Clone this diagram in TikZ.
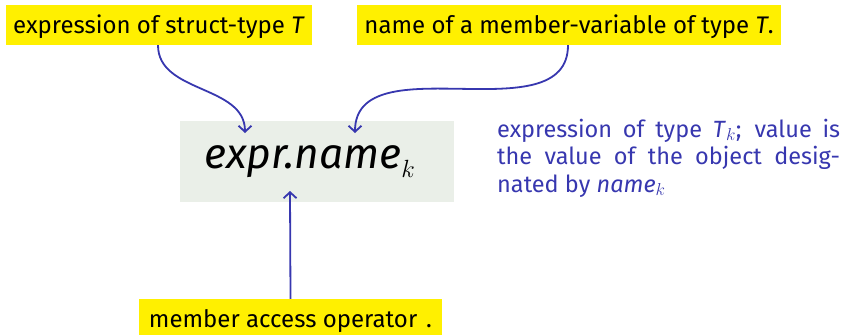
\documentclass[tikz,border=0pt]{standalone}
\usepackage{fontspec}
\setmainfont{Fira Sans}
\usetikzlibrary{arrows.meta}
\definecolor{hlyellow}{RGB}{255,240,0}
\definecolor{boxgray}{RGB}{234,239,232}
\definecolor{noteblue}{RGB}{55,55,175}
\begin{document}
\begin{tikzpicture}[x=1pt,y=-1pt,
  label box/.style={fill=hlyellow, inner sep=0pt, minimum height=40pt, font=\fontsize{24}{28}\selectfont, text depth=0pt, text height=0pt},
  conn/.style={draw=noteblue, line width=1.8pt, -{Straight Barb[length=6pt,width=13pt]}}]
\useasboundingbox (0,0) rectangle (847,335);
\node[label box, minimum width=306pt] (st) at (159,25) {\raisebox{-8pt}{expression of struct-type \textit{T}}};
\node[label box, minimum width=424pt] (nm) at (569,25) {\raisebox{-8pt}{name of a member-variable of type \textit{T}.}};
\node[label box, minimum width=303pt] (op) at (290.5,319) {\raisebox{-8pt}{member access operator\hspace{9pt}.}};
\node[fill=boxgray, minimum width=274pt, minimum height=81pt, inner sep=0pt, font=\fontsize{42.5}{42.5}\selectfont] (ex) at (317,161.5) {\textit{expr.name}$_k$\hspace*{14pt}};
\node[anchor=base west, inner sep=0pt, text width=343pt, align=justify, text=noteblue, font=\fontsize{23.5}{27.5}\selectfont] (note) at (497,137)
  {expression of type \textit{T}$_k$; value is\linebreak the value of the object desig-\linebreak nated by \textit{name}$_k$};
\coordinate (t1) at (245,133);
\coordinate (t2) at (355,133);
\coordinate (t3) at (290,191);
\draw[conn] ([xshift=-1pt]st.south) to[out=-90,in=90] (t1);
\draw[conn] ([xshift=-1pt]nm.south) to[out=-90,in=90] (t2);
\draw[conn] (op.north) -- (t3);
\end{tikzpicture}
\end{document}
